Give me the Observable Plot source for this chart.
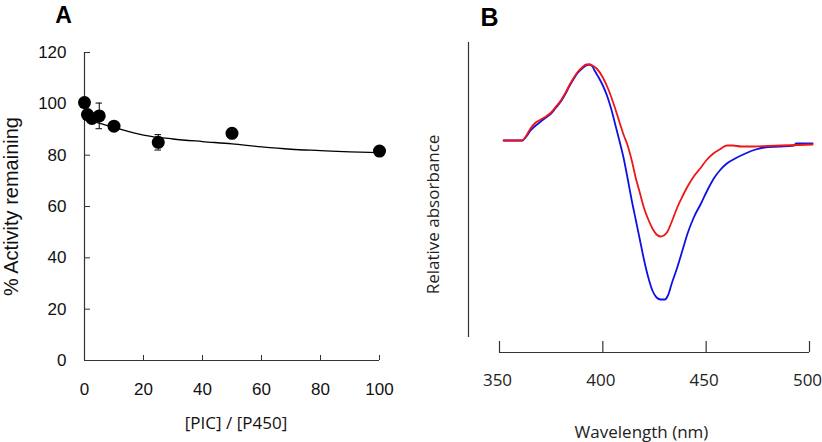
<!DOCTYPE html>
<html><head><meta charset="utf-8">
<script src="https://cdn.jsdelivr.net/npm/d3@7"></script>
<script src="https://cdn.jsdelivr.net/npm/@observablehq/plot@0.6"></script>
<style>
html,body{margin:0;padding:0;background:#fff;}
#wrap{position:relative;width:822px;height:442px;overflow:hidden;background:#fff;}
#a,#b{position:absolute;top:0;}
#a{left:0;} #b{left:411px;}
</style></head><body><div id="wrap"><div id="a"></div><div id="b"></div></div>
<script>
// ---------- Panel A data ----------
const ratio       = [0, 1, 2.5, 5, 10, 25, 50, 100];
const activity    = [100.5, 95.8, 94.3, 95.3, 91.3, 85.0, 88.5, 81.6];
const activityErr = [1.5, 1, 1, 5, 1.5, 3, 1, 1];
const fitX = [4, 10, 20, 30, 40, 50, 60, 70, 80, 90, 100];
const fitY = [92.8, 90.8, 87.8, 86.3, 85.3, 84.4, 83.2, 82.3, 81.8, 81.3, 81.0];
const xTicksA = [0, 20, 40, 60, 80, 100];
const yTicksA = [0, 20, 40, 60, 80, 100, 120];
const titleA = "A", xLabelA = "[PIC] / [P450]", yLabelA = "% Activity remaining";

// ---------- Panel B data ----------
const wlBlue = [352,361,363,365,367,370,372.5,375,377,380,382,384,386,388,390,392,393.5,395,396,398,400,402,404,406,408,410,412,414,416,418,420,422,424,426,428,430,431.5,433.5,436,438.5,441,444,447.5,451,454,457,460,464,469,474,478,485,492.5,493.5,501.5];
const absBlue = [0,0,0.04,0.10,0.14,0.19,0.23,0.27,0.32,0.40,0.47,0.55,0.62,0.68,0.72,0.75,0.76,0.74,0.70,0.63,0.55,0.45,0.32,0.16,0.0,-0.17,-0.38,-0.60,-0.80,-1.00,-1.20,-1.37,-1.50,-1.57,-1.59,-1.59,-1.55,-1.42,-1.27,-1.10,-0.93,-0.77,-0.63,-0.48,-0.37,-0.29,-0.23,-0.18,-0.13,-0.09,-0.07,-0.06,-0.05,-0.03,-0.03];
const wlRed = [352,361,363,365,367,370,372.5,375,377,380,382,384,386,388,390,392,393.5,395,397,400,402.5,405,407.5,410,412,414,416,418,420,422,424,426,428,429.5,431,433,436,438.5,441,444,447.5,450,453.5,456.5,460,463,467,473,480,486,495,501.5];
const absRed = [0,0,0.05,0.12,0.17,0.21,0.24,0.28,0.33,0.41,0.48,0.56,0.63,0.69,0.73,0.76,0.76,0.75,0.72,0.63,0.52,0.38,0.22,0.06,-0.05,-0.20,-0.38,-0.53,-0.68,-0.79,-0.88,-0.94,-0.96,-0.95,-0.92,-0.83,-0.67,-0.56,-0.46,-0.36,-0.27,-0.20,-0.13,-0.09,-0.05,-0.05,-0.06,-0.06,-0.055,-0.05,-0.045,-0.04];
const xTicksB = [350, 400, 450, 500];
const yDomainB = [-2.12, 0.98];
const titleB = "B", xLabelB = "Wavelength (nm)", yLabelB = "Relative absorbance";

const axisColor = "#333";
const sansA = "'Liberation Sans', Arial, sans-serif";
const sansB = "'Open Sans', 'Noto Sans', sans-serif";

// ---------- Panel A ----------
{
  const W = 411, H = 442, mL = 84, mR = 32, mT = 52, mB = 82;
  const fw = W - mL - mR, fh = H - mT - mB;
  const pts = ratio.map((x, i) => ({x, y: activity[i], e: activityErr[i]}));
  const fit = fitX.map((x, i) => ({x, y: fitY[i]}));
  const plotA = Plot.plot({
    width: W, height: H, marginLeft: mL, marginRight: mR, marginTop: mT, marginBottom: mB,
    x: {domain: [0, 100], axis: null},
    y: {domain: [0, 120], axis: null},
    style: {fontFamily: sansA, background: "white", color: "black", overflow: "visible"},
    marks: [
      Plot.ruleX([0], {stroke: axisColor, strokeWidth: 1.2}),
      Plot.ruleY([0], {stroke: axisColor, strokeWidth: 1.2}),
      Plot.tickY(yTicksA, {y: d => d, insetRight: fw - 6, stroke: axisColor}),
      Plot.tickX(xTicksA, {x: d => d, insetTop: fh - 5, stroke: axisColor}),
      Plot.text(yTicksA, {y: d => d, frameAnchor: "left", dx: -18, textAnchor: "end", lineAnchor: "middle", fontSize: 17, fill: "#111"}),
      Plot.text(xTicksA, {x: d => d, frameAnchor: "bottom", dy: 29, textAnchor: "middle", lineAnchor: "middle", fontSize: 17, fill: "#111"}),
      Plot.line(fit, {x: "x", y: "y", stroke: "black", strokeWidth: 1.3, curve: "monotone-x"}),
      Plot.ruleX(pts, {x: "x", y1: d => d.y - d.e, y2: d => d.y + d.e, stroke: "black", strokeWidth: 1}),
      Plot.ruleY(pts, {y: d => d.y + d.e, x1: d => d.x - 1.1, x2: d => d.x + 1.1, stroke: "black", strokeWidth: 1}),
      Plot.ruleY(pts, {y: d => d.y - d.e, x1: d => d.x - 1.1, x2: d => d.x + 1.1, stroke: "black", strokeWidth: 1}),
      Plot.dot(pts, {x: "x", y: "y", r: 6.5, fill: "black", stroke: "none"}),
      Plot.text([yLabelA], {frameAnchor: "left", dx: -73, rotate: -90, textAnchor: "middle", lineAnchor: "middle", fontSize: 20, fill: "#111"}),
      Plot.text([titleA], {frameAnchor: "top-left", dx: -21, dy: -37, textAnchor: "middle", lineAnchor: "middle", fontSize: 23, fontWeight: "bold", fill: "black"}),
      Plot.text([xLabelA], {frameAnchor: "bottom", dx: 4, dy: 63, textAnchor: "middle", lineAnchor: "middle", fontSize: 17, fontFamily: sansB, fill: "#111"})
    ]
  });
  document.getElementById("a").appendChild(plotA);
}

// ---------- Panel B ----------
{
  const W = 411, H = 442, mL = 88, mR = 13, mT = 42, mB = 90;
  const fh = H - mT - mB;
  const blue = wlBlue.map((x, i) => ({x, y: absBlue[i]}));
  const red = wlRed.map((x, i) => ({x, y: absRed[i]}));
  const plotB = Plot.plot({
    width: W, height: H, marginLeft: mL, marginRight: mR, marginTop: mT, marginBottom: mB,
    x: {domain: [350, 500], axis: null},
    y: {domain: yDomainB, axis: null},
    style: {fontFamily: sansB, background: "white", color: "black", overflow: "visible"},
    marks: [
      Plot.ruleX([xTicksB[0]], {dx: -31, insetBottom: 15, stroke: axisColor, strokeWidth: 1.2}),
      Plot.ruleY([yDomainB[0]], {stroke: axisColor, strokeWidth: 1.2}),
      Plot.tickX(xTicksB, {x: d => d, insetTop: fh - 11, stroke: axisColor, strokeWidth: 1.2}),
      Plot.text(xTicksB, {x: d => d, frameAnchor: "bottom", dy: 28, dx: -2, textAnchor: "middle", lineAnchor: "middle", fontSize: 17, fill: "#222"}),
      Plot.line(blue, {x: "x", y: "y", stroke: "#1010e6", strokeWidth: 1.8, curve: "monotone-x"}),
      Plot.line(red, {x: "x", y: "y", stroke: "#ee1616", strokeWidth: 1.8, curve: "monotone-x"}),
      Plot.text([yLabelB], {frameAnchor: "left", dx: -66, dy: 17, rotate: -90, textAnchor: "middle", lineAnchor: "middle", fontSize: 17, fill: "#222"}),
      Plot.text([xLabelB], {frameAnchor: "bottom", dx: -13, dy: 80, textAnchor: "middle", lineAnchor: "middle", fontSize: 17, fill: "#222"}),
      Plot.text([titleB], {frameAnchor: "top-left", dx: -10, dy: -25, textAnchor: "middle", lineAnchor: "middle", fontSize: 25, fontWeight: "bold", fontFamily: sansA, fill: "black"})
    ]
  });
  document.getElementById("b").appendChild(plotB);
}
</script>
</body></html>
